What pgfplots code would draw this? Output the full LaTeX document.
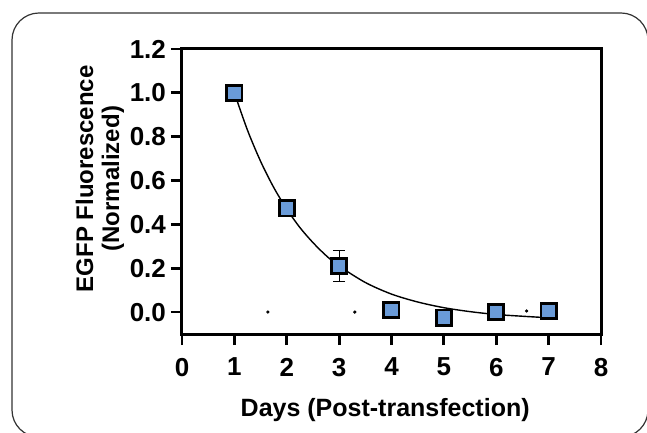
\documentclass[border=0pt]{standalone}
\usepackage{fontspec}
\setmainfont{Liberation Sans}
\usepackage{pgfplots}
\pgfplotsset{compat=1.18}
\definecolor{ptblue}{HTML}{6A9BD8}
\definecolor{frame}{HTML}{333333}

\begin{document}
\begin{tikzpicture}
\useasboundingbox (-91pt,-49.5pt) rectangle (232.5pt,167pt);
\begin{axis}[
  scale only axis,
  width=209.5pt, height=142.5pt,
  xmin=0, xmax=8, ymin=-0.1, ymax=1.2,
  xtick={0,1,...,8},
  ytick={0,0.2,...,1.2},
  yticklabel style={/pgf/number format/fixed, /pgf/number format/fixed zerofill,
    /pgf/number format/precision=1, xshift=1pt},
  /pgf/number format/assume math mode=true,
  tick pos=left, tick align=outside,
  major tick length=5.5pt,
  axis line style={line width=1.5pt},
  tick style={line width=1.4pt, black},
  tick label style={font=\fontsize{13}{15}\selectfont\bfseries},
  xticklabel style={yshift=-3pt},
  label style={font=\fontsize{12}{13}\selectfont\bfseries},
  xlabel={Days (Post-transfection)},
  xlabel style={at={(axis description cs:0.485,0)}, anchor=center, yshift=-38pt,
    font=\fontsize{12.5}{13.5}\selectfont\bfseries},
  ylabel={EGFP Fluorescence\\(Normalized)},
  ylabel style={at={(axis description cs:0,0.545)}, anchor=center, yshift=41pt, align=center},
  clip=false,
]
% fitted decay curve
\addplot[black, line width=0.7pt, smooth] coordinates {
  (1,1.000) (1.25,0.830) (1.5,0.688) (1.75,0.569) (2,0.470)
  (2.25,0.386) (2.5,0.317) (2.75,0.258) (3,0.210) (3.5,0.135)
  (4,0.082) (4.5,0.046) (5,0.020) (5.5,0.002) (6,-0.011)
  (6.5,-0.019) (7,-0.026)
};
% stray dots
\addplot[only marks, mark=*, mark size=0.6pt, black] coordinates {
  (1.64,0) (3.30,0) (6.58,0.005)
};
% data with error bar
\addplot[only marks, mark=square*, mark size=3.8pt,
  mark options={fill=ptblue, draw=black, line width=1.4pt},
  error bars/.cd, y dir=both, y explicit,
  error bar style={line width=0.6pt, black},
  error mark options={rotate=90, mark size=3pt, line width=0.6pt}]
  coordinates {
  (1,1.0) +- (0,0)
  (2,0.473) +- (0,0)
  (3,0.21) +- (0,0.07)
  (4,0.01) +- (0,0)
  (5,-0.025) +- (0,0)
  (6,0.0) +- (0,0)
  (7,0.005) +- (0,0)
};
\end{axis}
\draw[frame, line width=0.6pt, rounded corners=13.5pt] (-85pt,-51.5pt) rectangle (233pt,160.5pt);
\end{tikzpicture}
\end{document}
